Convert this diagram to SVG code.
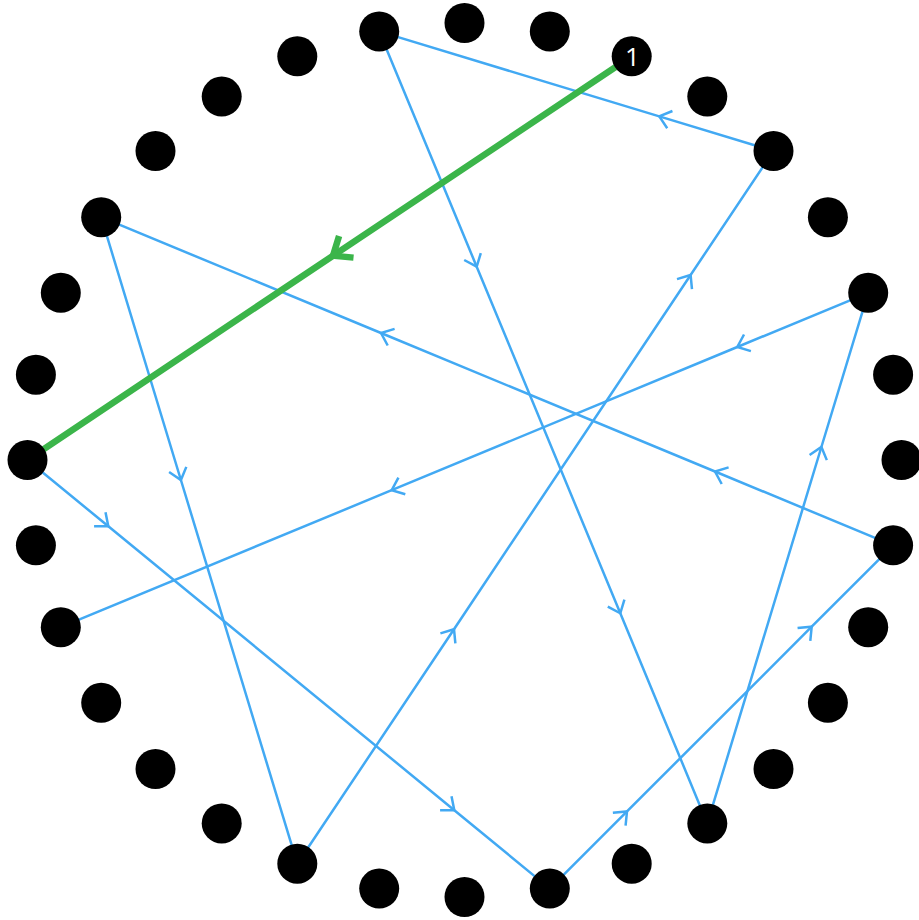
<svg xmlns="http://www.w3.org/2000/svg" width="919" height="920" viewBox="0 0 919 920">
<style>
.bg{fill:#ffffff}
.edge{fill:none;stroke:#42a9f3;stroke-width:2.5;marker-mid:url(#chev)}
.hl{fill:none;stroke:#3bb54a;stroke-width:6.5;marker-mid:url(#chevG)}
.node circle{fill:#000000}
.lbl{fill:#ffffff;font-family:"Open Sans","Noto Sans",sans-serif;font-size:26px;text-anchor:middle}
</style>
<defs>
<marker id="chev" markerUnits="userSpaceOnUse" markerWidth="30" markerHeight="30" refX="0" refY="0" orient="auto" overflow="visible">
<path d="M-11,-9 L0,0 L-11,9" fill="none" stroke="#42a9f3" stroke-width="2.5"/>
</marker>
<marker id="chevG" markerUnits="userSpaceOnUse" markerWidth="40" markerHeight="40" refX="0" refY="0" orient="auto" overflow="visible">
<path d="M-16,-13 L0,0 L-16,13" fill="none" stroke="#3bb54a" stroke-width="6.5"/>
</marker>
</defs>
<rect class="bg" x="0" y="0" width="919" height="920"/>
<g id="connectors">
<path class="edge" d="M27.5,460 L108.3,526.3 L454.3,810.2 L549.8,888.6"/>
<path class="edge" d="M549.8,888.6 L627,811.4 L811.7,626.7 L893.1,545.3"/>
<path class="edge" d="M893.1,545.3 L715,471.5 L381,333 L101.2,217.2"/>
<path class="edge" d="M101.2,217.2 L180.9,480 L297.3,863.7"/>
<path class="edge" d="M297.3,863.7 L454,629.2 L690.6,275 L773.5,151"/>
<path class="edge" d="M773.5,151 L659.3,116.4 L379.2,31.4"/>
<path class="edge" d="M379.2,31.4 L476.7,266.7 L620.3,613.3 L707.3,823.4"/>
<path class="edge" d="M707.3,823.4 L821.4,447 L868.2,292.8"/>
<path class="edge" d="M868.2,292.8 L737.3,347 L391.7,490.2 L60.8,627.2"/>
<path class="hl" d="M631.7,56.3 L333,255.7 L27.5,460"/>
</g>
<g id="nodes">
<g id="n0" class="node"><circle cx="901.5" cy="460" r="20"/></g>
<g id="n1" class="node"><circle cx="893.1" cy="545.3" r="20"/></g>
<g id="n2" class="node"><circle cx="868.2" cy="627.2" r="20"/></g>
<g id="n3" class="node"><circle cx="827.9" cy="702.8" r="20"/></g>
<g id="n4" class="node"><circle cx="773.5" cy="769" r="20"/></g>
<g id="n5" class="node"><circle cx="707.3" cy="823.4" r="20"/></g>
<g id="n6" class="node"><circle cx="631.7" cy="863.7" r="20"/></g>
<g id="n7" class="node"><circle cx="549.8" cy="888.6" r="20"/></g>
<g id="n8" class="node"><circle cx="464.5" cy="897" r="20"/></g>
<g id="n9" class="node"><circle cx="379.2" cy="888.6" r="20"/></g>
<g id="n10" class="node"><circle cx="297.3" cy="863.7" r="20"/></g>
<g id="n11" class="node"><circle cx="221.7" cy="823.4" r="20"/></g>
<g id="n12" class="node"><circle cx="155.5" cy="769" r="20"/></g>
<g id="n13" class="node"><circle cx="101.2" cy="702.8" r="20"/></g>
<g id="n14" class="node"><circle cx="60.8" cy="627.2" r="20"/></g>
<g id="n15" class="node"><circle cx="35.9" cy="545.3" r="20"/></g>
<g id="n16" class="node"><circle cx="27.5" cy="460" r="20"/></g>
<g id="n17" class="node"><circle cx="35.9" cy="374.7" r="20"/></g>
<g id="n18" class="node"><circle cx="60.8" cy="292.8" r="20"/></g>
<g id="n19" class="node"><circle cx="101.2" cy="217.2" r="20"/></g>
<g id="n20" class="node"><circle cx="155.5" cy="151" r="20"/></g>
<g id="n21" class="node"><circle cx="221.7" cy="96.6" r="20"/></g>
<g id="n22" class="node"><circle cx="297.3" cy="56.3" r="20"/></g>
<g id="n23" class="node"><circle cx="379.2" cy="31.4" r="20"/></g>
<g id="n24" class="node"><circle cx="464.5" cy="23" r="20"/></g>
<g id="n25" class="node"><circle cx="549.8" cy="31.4" r="20"/></g>
<g id="n26" class="node"><circle cx="631.7" cy="56.3" r="20"/><text class="lbl" x="632.5" y="66">1</text></g>
<g id="n27" class="node"><circle cx="707.3" cy="96.6" r="20"/></g>
<g id="n28" class="node"><circle cx="773.5" cy="151" r="20"/></g>
<g id="n29" class="node"><circle cx="827.9" cy="217.2" r="20"/></g>
<g id="n30" class="node"><circle cx="868.2" cy="292.8" r="20"/></g>
<g id="n31" class="node"><circle cx="893.1" cy="374.7" r="20"/></g>
</g>
</svg>
